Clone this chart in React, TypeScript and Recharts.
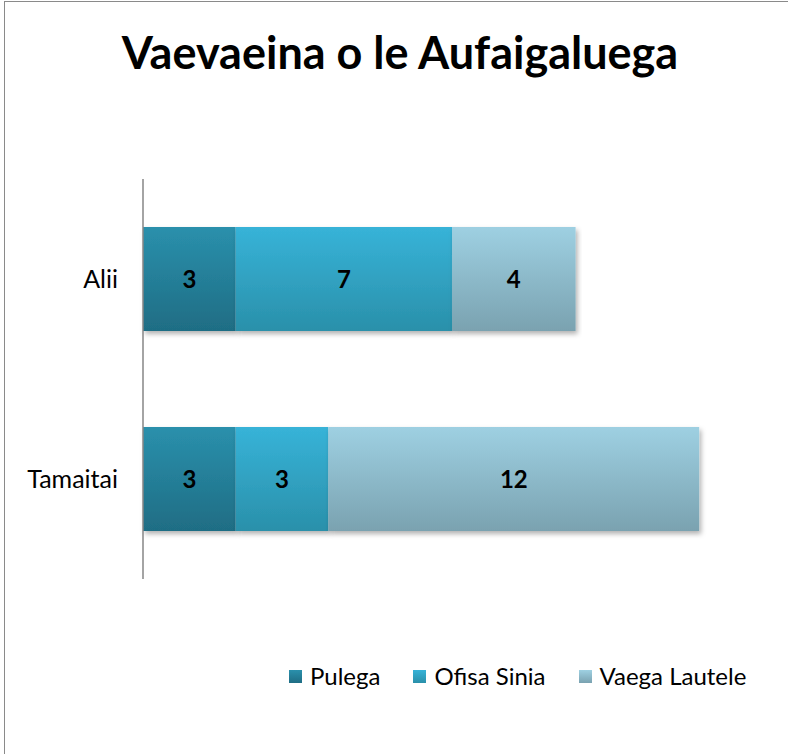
import { BarChart, Bar, XAxis, YAxis, LabelList } from 'recharts'

const categories = ['Alii', 'Tamaitai']
const pulega = [3, 3]
const ofisaSinia = [7, 3]
const vaegaLautele = [4, 12]
const seriesNames = ['Pulega', 'Ofisa Sinia', 'Vaega Lautele']

const data = categories.map((name, i) => ({
  name,
  pulega: pulega[i],
  ofisaSinia: ofisaSinia[i],
  vaegaLautele: vaegaLautele[i],
}))

const FONT = 'Lato, "Open Sans", sans-serif'

const legendSwatches = [
  'linear-gradient(#2a90ac, #1f6d84)',
  'linear-gradient(#37b3d8, #2a90aa)',
  'linear-gradient(#9ed0e2, #7aa2b0)',
]

const App = () => (
  <div style={{ position: 'absolute', left: 0, top: 0, width: 788, height: 754, overflow: 'hidden', background: '#fff', fontFamily: FONT }}>
    <div
      style={{
        position: 'absolute',
        left: 4,
        top: 1,
        width: 820,
        height: 800,
        border: '1.5px solid #8a8a8a',
        boxSizing: 'border-box',
      }}
    />
    <div
      style={{
        position: 'absolute',
        left: 0,
        top: 24,
        width: 800,
        textAlign: 'center',
        fontSize: 45,
        fontWeight: 'bold',
        color: '#000',
        lineHeight: '56px',
      }}
    >
      Vaevaeina o le Aufaigaluega
    </div>
    <div style={{ position: 'absolute', left: 0, top: 1 }}>
      <BarChart
        width={788}
        height={754}
        data={data}
        layout="vertical"
        margin={{ top: 178, right: 27, bottom: 176, left: 0 }}
        barSize={104}
      >
        <defs>
          <linearGradient id="gPulega" x1="0" y1="0" x2="0" y2="1">
            <stop offset="0%" stopColor="#2a90ac" />
            <stop offset="100%" stopColor="#1f6d84" />
          </linearGradient>
          <linearGradient id="gOfisa" x1="0" y1="0" x2="0" y2="1">
            <stop offset="0%" stopColor="#37b3d8" />
            <stop offset="100%" stopColor="#2a90aa" />
          </linearGradient>
          <linearGradient id="gVaega" x1="0" y1="0" x2="0" y2="1">
            <stop offset="0%" stopColor="#9ed0e2" />
            <stop offset="100%" stopColor="#7aa2b0" />
          </linearGradient>
          <filter id="shadow" x="-5%" y="-10%" width="110%" height="130%">
            <feDropShadow dx="2" dy="3" stdDeviation="2.5" floodColor="#000" floodOpacity="0.3" />
          </filter>
        </defs>
        <XAxis type="number" domain={[0, 20]} hide />
        <YAxis
          type="category"
          dataKey="name"
          width={143}
          axisLine={{ stroke: '#868686', strokeWidth: 1.5 }}
          tickLine={false}
          tickMargin={19}
          tick={{ fontSize: 25, fill: '#000', fontFamily: FONT }}
        />
        <Bar dataKey="pulega" name={seriesNames[0]} stackId="a" fill="url(#gPulega)" filter="url(#shadow)" isAnimationActive={false}>
          <LabelList dataKey="pulega" position="center" fill="#000" fontSize={24} fontWeight="bold" fontFamily={FONT} />
        </Bar>
        <Bar dataKey="ofisaSinia" name={seriesNames[1]} stackId="a" fill="url(#gOfisa)" filter="url(#shadow)" isAnimationActive={false}>
          <LabelList dataKey="ofisaSinia" position="center" fill="#000" fontSize={24} fontWeight="bold" fontFamily={FONT} />
        </Bar>
        <Bar dataKey="vaegaLautele" name={seriesNames[2]} stackId="a" fill="url(#gVaega)" filter="url(#shadow)" isAnimationActive={false}>
          <LabelList dataKey="vaegaLautele" position="center" fill="#000" fontSize={24} fontWeight="bold" fontFamily={FONT} />
        </Bar>
      </BarChart>
    </div>
    <div
      style={{
        position: 'absolute',
        left: 289,
        top: 661,
        display: 'flex',
        alignItems: 'center',
        fontSize: 24,
        lineHeight: '30px',
        color: '#000',
      }}
    >
      {seriesNames.map((n, i) => (
        <div key={n} style={{ display: 'flex', alignItems: 'center', marginRight: 33 }}>
          <span style={{ width: 13, height: 13, background: legendSwatches[i], marginRight: 8, display: 'inline-block' }} />
          <span>{n}</span>
        </div>
      ))}
    </div>
  </div>
)

export default App
